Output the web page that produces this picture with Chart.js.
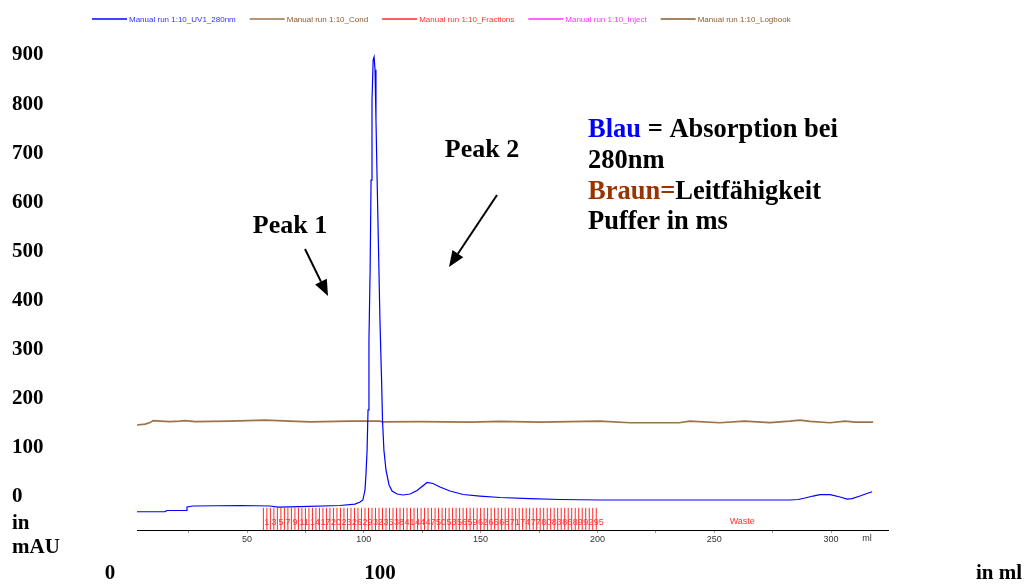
<!DOCTYPE html>
<html>
<head>
<meta charset="utf-8">
<script src="https://cdn.jsdelivr.net/npm/chart.js@4"></script>
<style>
  body { margin: 0; background: #fff; }
</style>
</head>
<body>
<canvas id="chart" width="1036" height="585"></canvas>
<script>
// UV1 280nm trace: volume (ml) and absorbance (mAU)
const uvMl = [2.9, 14.9, 15.8, 23.9, 24.3, 26.9, 47, 59.8, 63.3, 72.7, 89.8, 96.2, 98.4, 99.6,
  100.5, 100.9, 101.4, 101.8, 102.2, 102.7, 103.1, 103.5, 104, 104.4, 104.8, 105.2, 105.7,
  106.3, 106.9, 107.6, 108, 108.6, 109.5, 110.8, 112.1, 114.2, 116.8, 119.8, 122.8, 127.1,
  129.6, 132.6, 136.9, 142.5, 149.7, 158.3, 171.1, 184, 201.1, 243.9, 282.4, 285.9, 288.9,
  292.3, 295.3, 299.6, 303.9, 306.9, 309, 312.4, 315.4, 317.6];
const uvMau = [-30.6, -30.2, -28.1, -28.1, -21, -18.9, -17.9, -18.9, -21, -20, -17.9, -14.9, -10.8, -6.7,
  13.7, 44, 95, 177, 319, 462, 645, 808, 890, 896, 870, 768, 645,
  502, 360, 238, 156, 95, 54, 24, 11.6, 5.5, 3.5, 5.5, 12.6, 29,
  27, 19.8, 11.6, 4.5, 1.4, -1.6, -3.7, -5.7, -6.7, -6.7, -6.7, -5.7, -2.6,
  1.4, 4.1, 4.1, -0.6, -4.7, -3.7, 1.4, 6.5, 10.2];

// conductivity trace, plotted on the same axis
const condMl = [2.9, 6.4, 8.5, 9.8, 12.8, 17, 21.3, 23.5, 27.7, 42.7, 57.7, 68.4, 77, 94, 107,
  107.8, 124, 145.5, 158.3, 175.5, 201, 214, 235, 239.6, 252.4, 263, 273.8, 282.4, 286.7,
  291, 299.6, 306, 310.3, 318];
const condVal = [146, 148, 151, 155, 154, 153, 154, 155, 153, 154, 156, 154, 152.6, 154, 154,
  152.6, 153, 152, 153.6, 152, 154, 150.8, 150.8, 154, 150.8, 154, 151, 154, 156,
  153.6, 150.8, 154, 152, 152];

// fraction boundaries (ml) and the fraction numbers that carry a label
const fractionEdges = [57, 58.5, 60, 61.5, 63, 64.5, 66, 67.5, 69, 70.5, 72, 73.5, 75, 76.5, 78, 79.5,
  81, 82.5, 84, 85.5, 87, 88.5, 90, 91.5, 93, 94.5, 96, 97.5, 99, 100.5, 102, 103.5, 105, 106.5,
  108, 109.5, 111, 112.5, 114, 115.5, 117, 118.5, 120, 121.5, 123, 124.5, 126, 127.5, 129, 130.5,
  132, 133.5, 135, 136.5, 138, 139.5, 141, 142.5, 144, 145.5, 147, 148.5, 150, 151.5, 153, 154.5,
  156, 157.5, 159, 160.5, 162, 163.5, 165, 166.5, 168, 169.5, 171, 172.5, 174, 175.5, 177, 178.5,
  180, 181.5, 183, 184.5, 186, 187.5, 189, 190.5, 192, 193.5, 195, 196.5, 198, 199.5];
const fractionLabels = [1, 3, 5, 7, 9, 11, 14, 17, 20, 23, 26, 29, 32, 35, 38, 41, 44, 47, 50, 53,
  56, 59, 62, 65, 68, 71, 74, 77, 80, 83, 86, 89, 92, 95];
const wasteMl = 262;

const xTicks = [25, 50, 75, 100, 125, 150, 175, 200, 225, 250, 275, 300];
const yTicks = [0, 100, 200, 300, 400, 500, 600, 700, 800, 900];

const seriesNames = ["Manual run 1:10_UV1_280nm", "Manual run 1:10_Cond", "Manual run 1:10_Fractions",
  "Manual run 1:10_Inject", "Manual run 1:10_Logbook"];
const lineColors = ["#0000ff", "#9c7248", "#ff2a2a", "#ff33ff", "#8b5a2b"];
const textColors = ["#3333ff", "#8b5a2b", "#ff3333", "#ff33ff", "#8b5a2b"];

const fractionLevel = -46;
const serif = "'Liberation Serif', 'Times New Roman', serif";
const sans = "'Liberation Sans', Arial, sans-serif";

function drawArrow(ctx, x1, y1, x2, y2) {
    const ang = Math.atan2(y2 - y1, x2 - x1);
    const len = 16, half = 6.5;
    const bx = x2 - len * Math.cos(ang), by = y2 - len * Math.sin(ang);
    ctx.strokeStyle = "#000";
    ctx.lineWidth = 2;
    ctx.beginPath();
    ctx.moveTo(x1, y1);
    ctx.lineTo(bx, by);
    ctx.stroke();
    ctx.fillStyle = "#000";
    ctx.beginPath();
    ctx.moveTo(x2, y2);
    ctx.lineTo(bx + half * Math.sin(ang), by - half * Math.cos(ang));
    ctx.lineTo(bx - half * Math.sin(ang), by + half * Math.cos(ang));
    ctx.closePath();
    ctx.fill();
}

function drawParts(ctx, parts, x, y) {
    parts.forEach(([text, color]) => {
        ctx.fillStyle = color;
        ctx.fillText(text, x, y);
        x += ctx.measureText(text).width;
    });
}

const overlay = {
    id: "overlay",
    afterDraw(chart) {
        const ctx = chart.ctx;
        const xs = chart.scales.x;
        ctx.save();

        // legend strip
        ctx.font = "8px " + sans;
        ctx.textBaseline = "middle";
        ctx.textAlign = "left";
        let lx = 92;
        seriesNames.forEach((name, i) => {
            ctx.strokeStyle = lineColors[i];
            ctx.lineWidth = 1.5;
            ctx.beginPath();
            ctx.moveTo(lx, 19);
            ctx.lineTo(lx + 35, 19);
            ctx.stroke();
            ctx.fillStyle = textColors[i];
            ctx.fillText(name, lx + 37, 20);
            lx += 37 + ctx.measureText(name).width + 14;
        });

        // fraction numbers and waste
        ctx.font = "9px " + sans;
        ctx.fillStyle = "#ff3333";
        fractionLabels.forEach(n => {
            ctx.fillText(String(n), xs.getPixelForValue(fractionEdges[n - 1]) + 1, 523);
        });
        ctx.textAlign = "center";
        ctx.fillText("Waste", xs.getPixelForValue(wasteMl), 522);

        // unit on the small x axis
        ctx.fillStyle = "#333";
        ctx.fillText("ml", 867, 539);

        // large overlaid labels
        ctx.font = "bold 21px " + serif;
        ctx.fillStyle = "#000";
        ctx.textAlign = "left";
        ctx.fillText("in", 12, 524);
        ctx.fillText("mAU", 12, 548);
        ctx.textAlign = "center";
        ctx.fillText("0", 110, 574);
        ctx.fillText("100", 380, 574);
        ctx.textAlign = "left";
        ctx.fillText("in ml", 976, 574);

        ctx.font = "bold 26px " + serif;
        ctx.textAlign = "center";
        ctx.fillText("Peak 1", 290, 226);
        ctx.fillText("Peak 2", 482, 150);
        drawArrow(ctx, 305, 249, 328, 296);
        drawArrow(ctx, 497, 195, 449, 267);

        ctx.font = "bold 26.5px " + serif;
        ctx.textAlign = "left";
        drawParts(ctx, [["Blau", "#0000ff"], [" = Absorption bei", "#000"]], 588, 130);
        drawParts(ctx, [["280nm", "#000"]], 588, 161);
        drawParts(ctx, [["Braun=", "#993300"], ["Leitfähigkeit", "#000"]], 588, 192);
        drawParts(ctx, [["Puffer in ms", "#000"]], 588, 222);

        ctx.restore();
    }
};

new Chart(document.getElementById("chart"), {
    type: "line",
    data: {
        datasets: [
            {
                label: seriesNames[0],
                data: uvMl.map((x, i) => ({ x, y: uvMau[i] })),
                borderColor: lineColors[0],
                borderWidth: 1.2,
                pointRadius: 0,
            },
            {
                label: seriesNames[1],
                data: condMl.map((x, i) => ({ x, y: condVal[i] })),
                borderColor: lineColors[1],
                borderWidth: 1.6,
                pointRadius: 0,
            },
            {
                label: seriesNames[2],
                data: fractionEdges.map(x => ({ x, y: fractionLevel })),
                showLine: false,
                pointStyle: "line",
                pointRotation: 90,
                pointRadius: 11.5,
                pointBorderWidth: 1,
                pointBorderColor: lineColors[2],
                borderColor: lineColors[2],
            },
            { label: seriesNames[3], data: [], borderColor: lineColors[3] },
            { label: seriesNames[4], data: [], borderColor: lineColors[4] },
        ],
    },
    options: {
        responsive: false,
        animation: false,
        devicePixelRatio: 1,
        layout: { padding: { left: 12, right: 148, top: 30, bottom: 35 } },
        plugins: {
            legend: { display: false },
            tooltip: { enabled: false },
        },
        scales: {
            x: {
                type: "linear",
                min: 2.9,
                max: 324.4,
                afterBuildTicks: (scale) => { scale.ticks = xTicks.map(v => ({ value: v })); },
                afterFit: (scale) => { scale.height = 20; },
                ticks: {
                    font: { family: sans, size: 9 },
                    color: "#333",
                    padding: 1,
                    maxRotation: 0,
                    autoSkip: false,
                    callback: (v) => (v % 50 === 0 ? String(v) : ""),
                },
                grid: { drawOnChartArea: false, tickLength: 3, color: "#999" },
                border: { display: true, color: "#000", width: 1 },
            },
            y: {
                min: -67.8,
                max: 951,
                afterBuildTicks: (scale) => { scale.ticks = yTicks.map(v => ({ value: v })); },
                afterFit: (scale) => { scale.width = 125; },
                ticks: {
                    font: { family: serif, size: 21, weight: "bold" },
                    color: "#000",
                    crossAlign: "far",
                    padding: 0,
                    autoSkip: false,
                },
                grid: { display: false },
                border: { display: false },
            },
        },
    },
    plugins: [overlay],
});
</script>
</body>
</html>
